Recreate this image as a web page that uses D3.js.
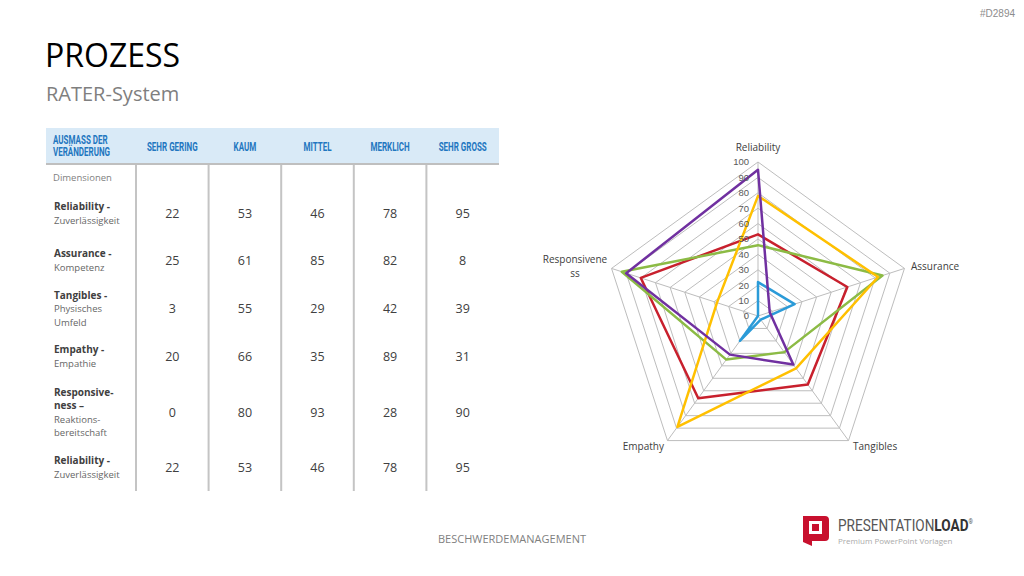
<!DOCTYPE html>
<html>
<head>
<meta charset="utf-8">
<script src="https://cdn.jsdelivr.net/npm/d3@7"></script>
<style>
  html, body { margin: 0; padding: 0; background: #fff; }
  svg { display: block; }
</style>
</head>
<body>
<svg id="slide" width="1024" height="576"></svg>
<script>
// Table data (rows = dimensions, columns = levels of change)
const levels = ["SEHR GERING", "KAUM", "MITTEL", "MERKLICH", "SEHR GROSS"];
const rowTitles = ["Reliability -", "Assurance -", "Tangibles -", "Empathy -", "Responsive-|ness –", "Reliability -"];
const rowSubtitles = ["Zuverlässigkeit", "Kompetenz", "Physisches|Umfeld", "Empathie", "Reaktions-|bereitschaft", "Zuverlässigkeit"];
const sehrGering = [22, 25, 3, 20, 0, 22];
const kaum = [53, 61, 55, 66, 80, 53];
const mittel = [46, 85, 29, 35, 93, 46];
const merklich = [78, 82, 42, 89, 28, 78];
const sehrGross = [95, 8, 39, 31, 90, 95];

// Radar categories and ticks
const radarAxes = ["Reliability", "Assurance", "Tangibles", "Empathy", "Responsiveness"];
const radarTicks = [0, 10, 20, 30, 40, 50, 60, 70, 80, 90, 100];
const seriesColors = ["#2b9bd8", "#c8202d", "#8cbb45", "#ffc000", "#7030a0"];

const svg = d3.select("#slide");
const font = "'Open Sans', sans-serif";
const heavy = "Roboto, 'Liberation Sans', sans-serif";

// squeeze a text horizontally (no condensed fonts installed)
function condense(sel, factor) {
  sel.each(function () {
    const w = this.getComputedTextLength();
    d3.select(this).attr("textLength", w * factor).attr("lengthAdjust", "spacingAndGlyphs");
  });
}

// Header texts
svg.append("text").attr("x", 1015).attr("y", 17).attr("text-anchor", "end")
  .attr("font-family", "'Liberation Sans', sans-serif").attr("font-size", 10).attr("fill", "#8c8c8c").text("#D2894");
svg.append("text").attr("x", 45).attr("y", 67)
  .attr("font-family", font).attr("font-size", 32).attr("fill", "#000").text("PROZESS");
svg.append("text").attr("x", 46).attr("y", 101)
  .attr("font-family", font).attr("font-size", 20).attr("fill", "#7f7f7f").text("RATER-System");

// ---------- Table ----------
const columns = [sehrGering, kaum, mittel, merklich, sehrGross];
const x = d3.scaleBand().domain(levels).range([136, 499]);
const tableTop = 128, headerBottom = 164, tableBottom = 491;
const rowCenters = [213, 260, 308, 356, 412, 467];

svg.append("rect").attr("x", 46).attr("y", tableTop).attr("width", 453).attr("height", headerBottom - tableTop)
  .attr("fill", "#d9eaf7");
svg.append("line").attr("x1", 46).attr("x2", 499).attr("y1", headerBottom).attr("y2", headerBottom)
  .attr("stroke", "#bfbfbf").attr("stroke-width", 2);

const hdrLines = ["AUSMASS DER", "VERÄNDERUNG"];
svg.selectAll("text.hdr").data(hdrLines).join("text").attr("class", "hdr")
  .attr("x", 53).attr("y", (d, i) => 144 + i * 12)
  .attr("font-family", heavy).attr("font-weight", "bold").attr("font-size", 12.5).attr("fill", "#1f77c0")
  .text(d => d)
  .call(condense, 0.64);

svg.selectAll("text.colhead").data(levels).join("text").attr("class", "colhead")
  .attr("x", d => x(d) + x.bandwidth() / 2).attr("y", 150.5).attr("text-anchor", "middle")
  .attr("font-family", heavy).attr("font-weight", "bold").attr("font-size", 12.5).attr("fill", "#1f77c0")
  .text(d => d)
  .call(condense, 0.64);

svg.selectAll("line.vsep").data(levels).join("line").attr("class", "vsep")
  .attr("x1", d => x(d)).attr("x2", d => x(d)).attr("y1", headerBottom + 1).attr("y2", tableBottom)
  .attr("stroke", "#c4c4c4").attr("stroke-width", 2);

svg.append("text").attr("x", 53).attr("y", 181)
  .attr("font-family", font).attr("font-size", 9.5).attr("fill", "#7f7f7f").text("Dimensionen");

rowTitles.forEach((t, i) => {
  const titleLines = t.split("|");
  const subLines = rowSubtitles[i].split("|");
  const n = titleLines.length + subLines.length;
  let y0 = rowCenters[i] - (n - 1) * 13.5 / 2 + 4;
  const g = svg.append("text").attr("font-family", font).attr("font-size", 10);
  titleLines.forEach((l, k) => {
    g.append("tspan").attr("x", 54).attr("y", y0 + k * 13.5)
      .attr("font-weight", "bold").attr("fill", "#404040").text(l);
  });
  subLines.forEach((l, k) => {
    g.append("tspan").attr("x", 54).attr("y", y0 + (titleLines.length + k) * 13.5)
      .attr("font-size", 9.5).attr("fill", "#666").text(l);
  });
  columns.forEach((col, c) => {
    svg.append("text").attr("x", x(levels[c]) + x.bandwidth() / 2).attr("y", rowCenters[i] + 4.5)
      .attr("text-anchor", "middle").attr("font-family", font).attr("font-size", 12.5)
      .attr("fill", "#404040").text(col[i]);
  });
});

// ---------- Radar ----------
const cx = 758, cy = 316;
const r = d3.scaleLinear().domain([0, 100]).range([0, 154]);
const angle = d3.scalePoint().domain(radarAxes).range([0, 2 * Math.PI * 4 / 5]);
const radar = svg.append("g").attr("transform", `translate(${cx},${cy})`);

const ring = d3.lineRadial().curve(d3.curveLinearClosed);
radar.selectAll("path.ring").data(radarTicks.slice(1)).join("path").attr("class", "ring")
  .attr("d", t => ring(radarAxes.map(a => [angle(a), r(t)])))
  .attr("fill", "none").attr("stroke", "#bdbdbd").attr("stroke-width", 1);
radar.selectAll("line.spoke").data(radarAxes).join("line").attr("class", "spoke")
  .attr("x1", 0).attr("y1", 0)
  .attr("x2", a => r(100) * Math.sin(angle(a))).attr("y2", a => -r(100) * Math.cos(angle(a)))
  .attr("stroke", "#bdbdbd").attr("stroke-width", 1);

const series = columns.map(col => col.slice(0, 5));
const line = d3.lineRadial().angle((d, i) => angle(radarAxes[i])).radius(d => r(d)).curve(d3.curveLinearClosed);
radar.selectAll("path.series").data(series).join("path").attr("class", "series")
  .attr("d", d => line(d)).attr("fill", "none")
  .attr("stroke", (d, i) => seriesColors[i]).attr("stroke-width", 2.5).attr("stroke-linejoin", "round");

radar.selectAll("text.tick").data(radarTicks).join("text").attr("class", "tick")
  .attr("x", -9).attr("y", t => -r(t)).attr("dy", "0.35em").attr("text-anchor", "end")
  .attr("font-family", "'Liberation Sans', sans-serif").attr("font-size", 9.5).attr("fill", "#595959")
  .text(t => t);

// axis labels
const labelPos = {
  "Reliability": [0, -165, "middle"],
  "Assurance": [153, -46, "start"],
  "Tangibles": [95, 134, "start"],
  "Empathy": [-94, 134, "end"],
  "Responsiveness": [-183, -53, "middle"]
};
radarAxes.forEach(a => {
  const [lx, ly, anchor] = labelPos[a];
  const t = radar.append("text").attr("x", lx).attr("y", ly).attr("text-anchor", anchor)
    .attr("font-family", font).attr("font-size", 10).attr("fill", "#404040");
  if (a === "Responsiveness") {
    t.append("tspan").attr("x", lx).text("Responsivene");
    t.append("tspan").attr("x", lx).attr("dy", 14).text("ss");
  } else {
    t.text(a);
  }
});

// ---------- Footer ----------
svg.append("text").attr("x", 512).attr("y", 543).attr("text-anchor", "middle")
  .attr("font-family", font).attr("font-size", 11).attr("fill", "#7f7f7f").text("BESCHWERDEMANAGEMENT");

const logo = svg.append("g");
logo.append("path")
  .attr("d", "M803,516 h22 a4,4 0 0 1 4,4 v17 a4,4 0 0 1 -4,4 h-13 v5 l-9,-4 z")
  .attr("fill", "#c8102e");
logo.append("rect").attr("x", 809).attr("y", 521).attr("width", 13).attr("height", 13).attr("fill", "#fff");
logo.append("rect").attr("x", 812).attr("y", 524).attr("width", 7).attr("height", 7).attr("fill", "#c8102e");
const brandG = logo.append("g").attr("transform", "translate(838,531) scale(0.8,1)");
const brand = brandG.append("text").attr("x", 0).attr("y", 0)
  .attr("font-family", heavy).attr("font-size", 17).attr("fill", "#555");
brand.append("tspan").text("PRESENTATION");
brand.append("tspan").attr("font-weight", "bold").attr("fill", "#333").text("LOAD");
brand.append("tspan").attr("font-size", 7).attr("dy", -7).text("®");
logo.append("text").attr("x", 838).attr("y", 544)
  .attr("font-family", font).attr("font-size", 8).attr("fill", "#aaa").text("Premium PowerPoint Vorlagen");
</script>
</body>
</html>
